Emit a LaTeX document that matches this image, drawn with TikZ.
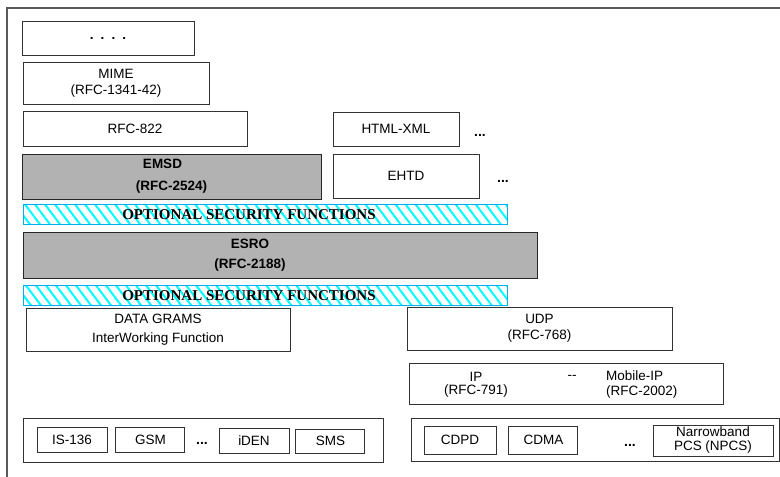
\documentclass[tikz,border=0pt]{standalone}
\usepackage{fontspec}
\setmainfont{Liberation Sans}
\newfontfamily\bandfont{Liberation Serif}
\usepackage{tikz}
\usetikzlibrary{shapes,positioning,patterns.meta}

\begin{document}
\begin{tikzpicture}[x=1pt, y=1pt, node distance=8pt,
    layer/.style={rectangle, draw=black!80, line width=0.9pt, inner sep=0pt, align=center, font=\fontsize{13.5}{16}\selectfont},
    shaded/.style={layer, fill=black!30, draw=black!85, font=\fontsize{13.5}{20}\selectfont\bfseries},
    secband/.style={rectangle, draw=cyan, line width=1pt, inner sep=0pt, pattern={Lines[angle=-53, distance=8pt, line width=2pt]}, pattern color=cyan, minimum width=484pt, minimum height=20pt, font=\fontsize{15}{16}\selectfont\bandfont\bfseries},
    more/.style={inner sep=0pt, font=\fontsize{14}{14}\selectfont\bfseries},
    lbl/.style={inner sep=0pt, align=center, font=\fontsize{13.5}{13}\selectfont},
    frame/.style={draw=black!65, line width=1.4pt}]
    \useasboundingbox (0,0) rectangle (780,477);
    \draw [frame] (7,0) |- (780,469);

    % application layers
    \node [layer, minimum width=172pt, minimum height=34pt, font=\fontsize{13.5}{16}\selectfont\bfseries] (etc) at (108,439) {.\hspace{7pt}.\hspace{7pt}.\hspace{7pt}.};
    \node [layer, minimum width=186pt, minimum height=42pt] (mime) at (116,394) {MIME\\(RFC-1341-42)};
    \node [layer, minimum width=224pt, minimum height=35pt] (rfc822) at (135,348.5) {RFC-822};
    \node [shaded, minimum width=299pt, minimum height=45pt, font=\fontsize{13.5}{22}\selectfont\bfseries] (emsd) at (171.5,300.5) {EMSD\hspace*{18pt}\\(RFC-2524)};
    \node [layer, minimum width=126pt, minimum height=34pt] (html) at (396,348) {HTML-XML};
    \node [more] (htmlmore) at (480,342) {...};
    \node [layer, minimum width=146pt, minimum height=44pt] (ehtd) at (406,301) {EHTD};
    \node [more] (ehtdmore) at (503,296) {...};

    % ESRO between the security bands
    \node [secband] (secupper) at (265,262) {OPTIONAL SECURITY FUNCTIONS\hspace*{32pt}};
    \node [shaded, minimum width=514pt, minimum height=46pt] (esro) at (280,222) {ESRO\hspace*{60pt}\\(RFC-2188)\hspace*{60pt}};
    \node [secband] (seclower) at (265,181) {OPTIONAL SECURITY FUNCTIONS\hspace*{32pt}};

    % transport
    \node [layer, minimum width=264pt, minimum height=43pt, font=\fontsize{13.5}{19}\selectfont] (dgram) at (158,147.5) {DATA GRAMS\\InterWorking Function};
    \node [layer, minimum width=265pt, minimum height=43pt] (udp) at (539.5,148.5) {UDP\\(RFC-768)};
    \node [layer, minimum width=314pt, minimum height=41pt] (ipbox) at (566,93.5) {};
    \node [lbl] (ip) at (476,92) {IP\\(RFC-791)};
    \node [lbl] (ipsep) at (572,100) {{-}{-}};
    \node [lbl, align=left, anchor=west, font=\fontsize{13.5}{15}\selectfont] (mip) at (606,92) {Mobile-IP\\(RFC-2002)};

    % bearers
    \node [layer, minimum width=360pt, minimum height=44pt] (gsmnet) at (203,37) {};
    \node [layer, minimum width=70pt, minimum height=25pt] (is136) at (72,37.5) {IS-136};
    \node [layer, minimum width=69pt, minimum height=25pt, right=of is136] (gsm) {GSM};
    \node [more] (gsmmore) at (202,34) {...};
    \node [layer, minimum width=70pt, minimum height=25pt] (iden) at (254,36.5) {iDEN};
    \node [layer, minimum width=69pt, minimum height=24pt, right=6pt of iden.east, anchor=west, yshift=-0.5pt] (sms) {SMS};

    \node [layer, minimum width=368pt, minimum height=43pt] (pcsnet) at (595,37.5) {};
    \node [layer, minimum width=72pt, minimum height=28pt] (cdpd) at (460,37) {CDPD};
    \node [layer, minimum width=69pt, minimum height=28pt, right=12pt of cdpd] (cdma) {CDMA};
    \node [more] (cdmamore) at (630,32) {...};
    \node [layer, minimum width=120pt, minimum height=31pt, font=\fontsize{13.5}{14}\selectfont] (npcs) at (713,36.5) {Narrowband\\PCS (NPCS)};
\end{tikzpicture}
\end{document}
